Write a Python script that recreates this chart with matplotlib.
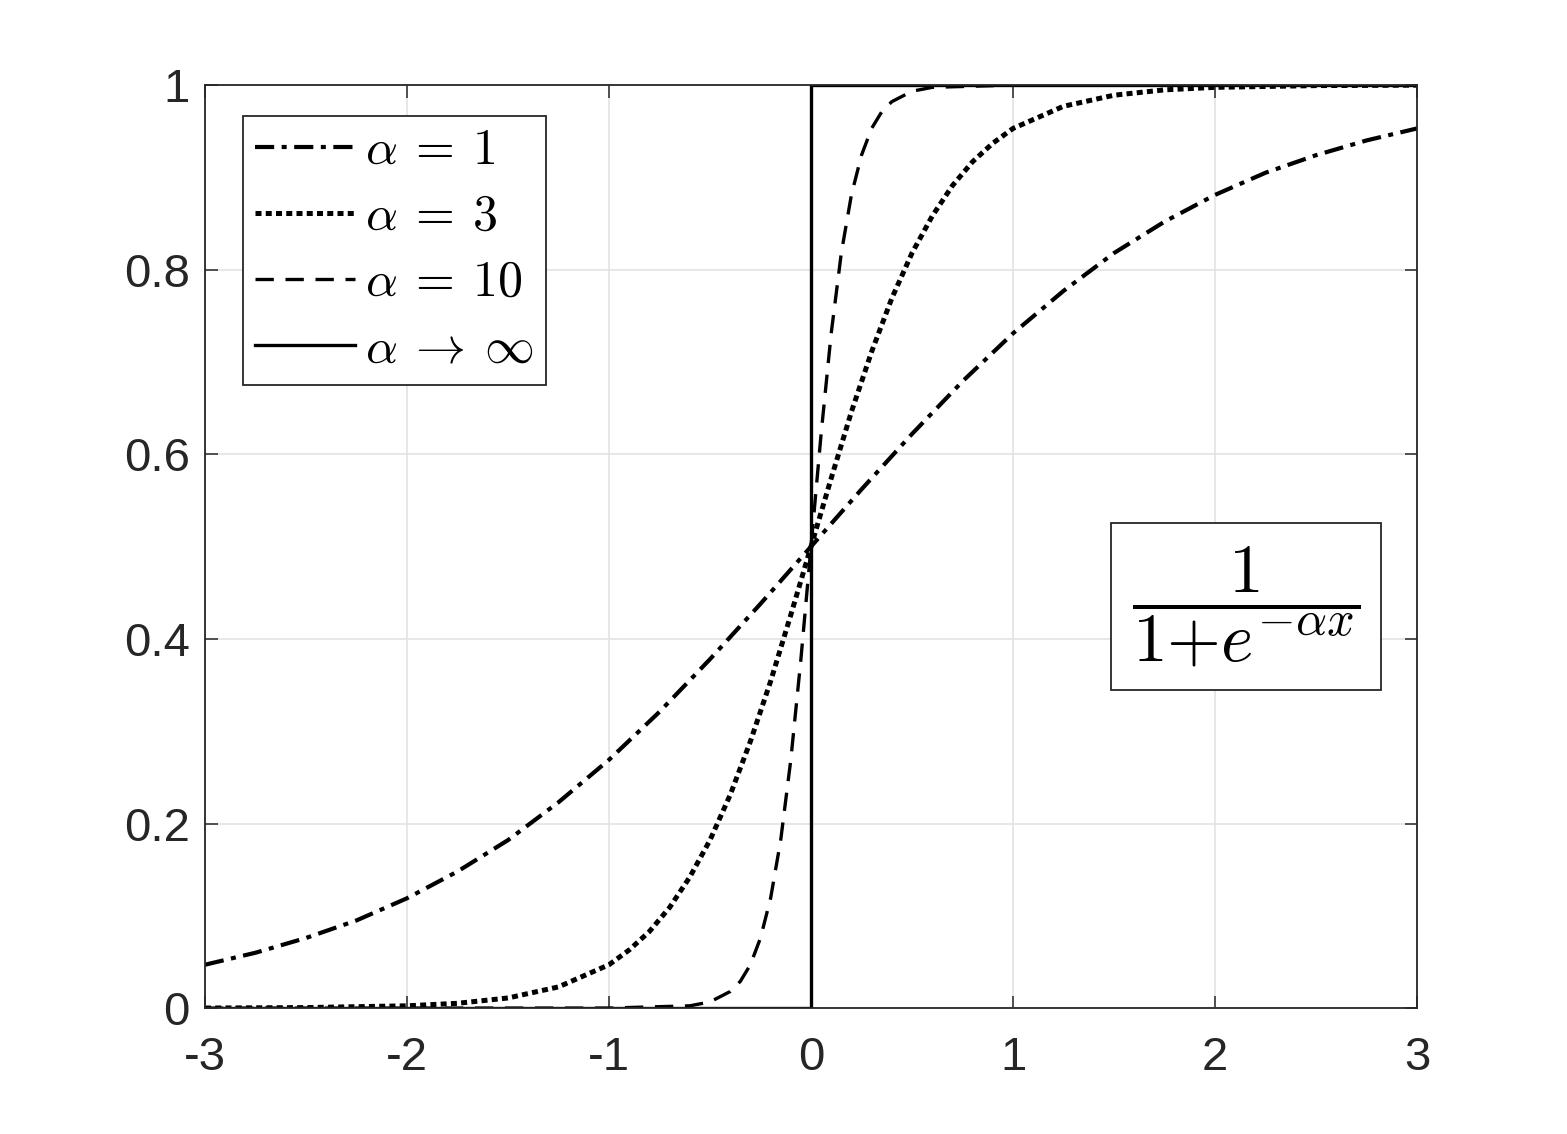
import numpy as np
import matplotlib.pyplot as plt

plt.rcParams['font.family'] = ['Liberation Sans', 'DejaVu Sans']
plt.rcParams['mathtext.fontset'] = 'cm'

# curve values
x_a1 = [-3, -2.75, -2.5, -2.25, -2, -1.75, -1.5, -1.25, -1, -0.75, -0.5, -0.25, 0,
        0.25, 0.5, 0.75, 1, 1.25, 1.5, 1.75, 2, 2.25, 2.5, 2.75, 3]
y_a1 = [0.047, 0.060, 0.076, 0.095, 0.119, 0.148, 0.182, 0.223, 0.269, 0.321, 0.378, 0.438, 0.5,
        0.562, 0.622, 0.679, 0.731, 0.777, 0.818, 0.852, 0.881, 0.905, 0.924, 0.940, 0.953]

x_a3 = [-3, -2.5, -2, -1.75, -1.5, -1.25, -1, -0.9, -0.8, -0.7, -0.6, -0.5, -0.4, -0.3, -0.2, -0.1, 0,
        0.1, 0.2, 0.3, 0.4, 0.5, 0.6, 0.7, 0.8, 0.9, 1, 1.25, 1.5, 1.75, 2, 2.5, 3]
y_a3 = [0.0001, 0.0006, 0.0025, 0.0052, 0.011, 0.023, 0.047, 0.063, 0.083, 0.109, 0.142, 0.182,
        0.231, 0.289, 0.354, 0.426, 0.5,
        0.574, 0.646, 0.711, 0.769, 0.818, 0.858, 0.891, 0.917, 0.937, 0.953, 0.977, 0.989,
        0.9948, 0.9975, 0.9994, 0.9999]

x_a10 = [-3, -1, -0.6, -0.5, -0.4, -0.35, -0.3, -0.25, -0.2, -0.15, -0.1, -0.05, 0,
         0.05, 0.1, 0.15, 0.2, 0.25, 0.3, 0.35, 0.4, 0.5, 0.6, 1, 3]
y_a10 = [0.0, 0.00005, 0.0025, 0.0067, 0.018, 0.029, 0.047, 0.076, 0.119, 0.182, 0.269, 0.378, 0.5,
         0.622, 0.731, 0.818, 0.881, 0.924, 0.953, 0.971, 0.982, 0.9933, 0.9975, 0.99995, 1.0]

x_step = [-3, 0, 0, 3]
y_step = [0, 0, 1, 1]

labels = [r'$\alpha\:=\:1$', r'$\alpha\:=\:3$', r'$\alpha\:=\:10$', r'$\alpha\:\rightarrow\:\infty$']

fig = plt.figure(figsize=(15.67, 11.34), dpi=100)
ax = fig.add_axes([0.1308, 0.111, 0.7735, 0.814])

ax.plot(x_a1, y_a1, color='black', lw=3, linestyle=(0, (4.6, 1.8, 1.2, 1.8)), label=labels[0])
ax.plot(x_a3, y_a3, color='black', lw=3.6, linestyle=(0, (1.2, 0.85)), label=labels[1])
ax.plot(x_a10, y_a10, color='black', lw=2.4, linestyle=(0, (5.5, 3.5)), label=labels[2])
ax.plot(x_step, y_step, color='black', lw=2.4, label=labels[3])

ax.set_xlim(-3, 3)
ax.set_ylim(0, 1)
ax.set_xticks([-3, -2, -1, 0, 1, 2, 3])
ax.set_xticklabels(['-3', '-2', '-1', '0', '1', '2', '3'])
ax.set_yticks([0, 0.2, 0.4, 0.6, 0.8, 1])
ax.set_yticklabels(['0', '0.2', '0.4', '0.6', '0.8', '1'])
ax.grid(True, color='#e3e3e3', lw=1.2)
ax.set_axisbelow(True)
ax.tick_params(direction='in', length=9, width=1.1, top=True, right=True,
               labelsize=34, colors='#262626')
ax.tick_params(axis='x', pad=20)
ax.tick_params(axis='y', pad=11)
for s in ax.spines.values():
    s.set_color('#262626')
    s.set_linewidth(1.3)

leg = ax.legend(loc='upper left', bbox_to_anchor=(0.031, 0.967), fontsize=36,
                fancybox=False, framealpha=1, edgecolor='#262626',
                handlelength=2.0, handletextpad=0.2, labelspacing=0.4,
                borderpad=0.25, borderaxespad=0)
leg.get_frame().set_linewidth(1.3)

ax.text(2.153, 0.435, r'$\dfrac{1}{1{+}e^{-\alpha x}}$', fontsize=50, ha='center', va='center',
        bbox=dict(boxstyle='square,pad=0.3', facecolor='white', edgecolor='#262626', lw=1.3))

fig.savefig('out.png', dpi=100)
